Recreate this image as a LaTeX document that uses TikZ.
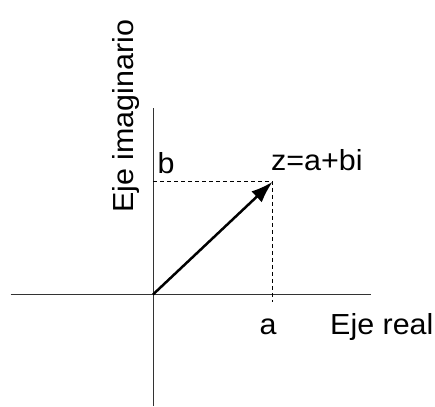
\documentclass[tikz,border=0pt]{standalone}
\usepackage{fontspec}
\setmainfont{Liberation Sans}[FakeStretch=1.05]
\usepackage{tikz}
\usetikzlibrary{arrows.meta}

\begin{document}
\begin{tikzpicture}[x=1pt, y=1pt,
    every node/.style={font=\fontsize{29}{33}\selectfont, inner sep=0pt},
    axisline/.style={line width=1pt, black!80},
    guide/.style={line width=1pt, dash pattern=on 4pt off 3pt},
    vec/.style={line width=2.5pt, -{Latex[length=22pt, width=15pt]}}]
  \useasboundingbox (0,0) rectangle (435,406);
  \coordinate (o) at (153,111.5);
  \coordinate (xl) at (10.7,111.5);
  \coordinate (xr) at (371,111.5);
  \coordinate (yb) at (153,0);
  \coordinate (yt) at (153,298);
  \coordinate (z) at (272.7,224.3);
  \coordinate (zy) at (153,224.3);
  \coordinate (zx) at (272.7,104);
  % Axes
  \draw[axisline] (xl) -- (xr);
  \draw[axisline] (yb) -- (yt);
  % Projections
  \draw[guide] (zy) -- (z) -- (zx);
  % Vector
  \draw[vec] (o) -- (z);
  % Labels
  \node[anchor=base west] (lblb) at (157.3,232.7) {b};
  \node[anchor=base west] (lblz) at (271,235.3) {z=a+bi};
  \node[anchor=base west] (lbla) at (259.5,71) {a};
  \node[anchor=base west] (xname) at (330,71) {Eje real};
  \node[anchor=base west, rotate=90] (yname) at (133,193) {Eje imaginario};
\end{tikzpicture}
\end{document}
